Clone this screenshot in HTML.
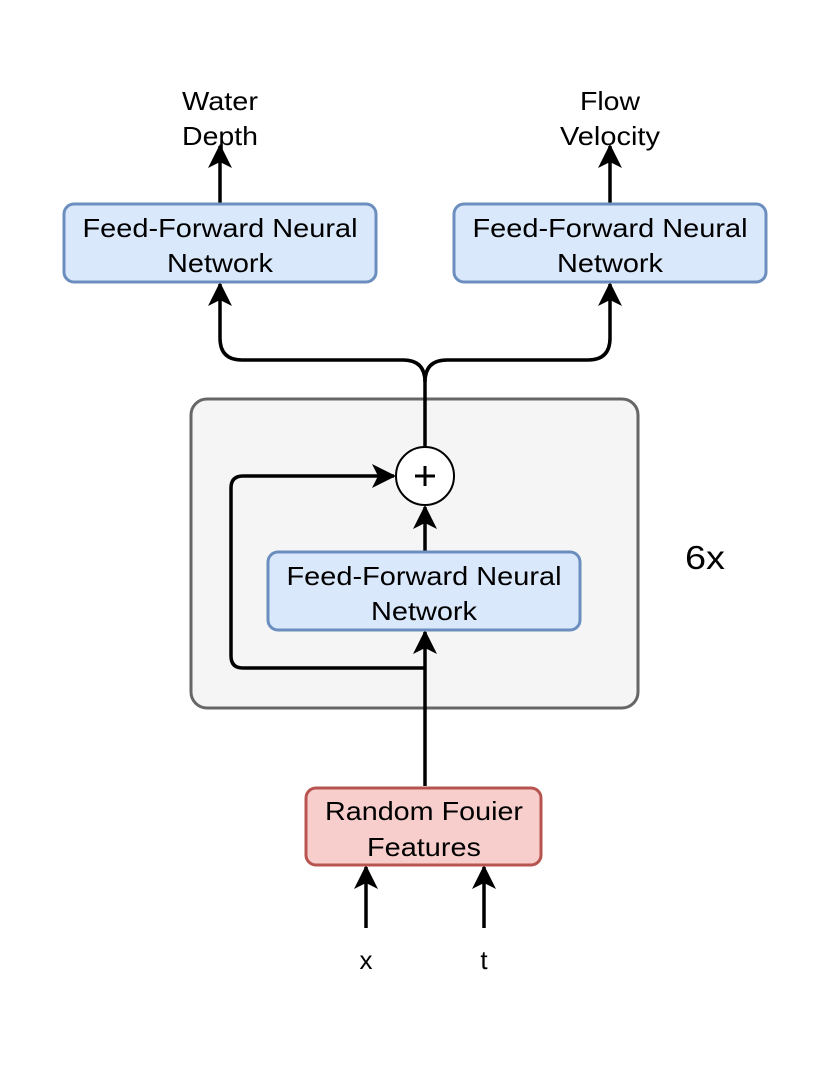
<!DOCTYPE html>
<html><head><style>body{margin:0;background:#fff}</style></head><body>
<svg width="831" height="1069" xmlns="http://www.w3.org/2000/svg" style="font-family:'Liberation Sans',Arial,sans-serif">
<defs>
<marker id="b" markerWidth="24" markerHeight="26" refX="22" refY="13" orient="auto" markerUnits="userSpaceOnUse" viewBox="0 0 24 26"><path d="M0,1 L24,13 L0,25 L6,13 Z" fill="#000"/></marker></defs>
<rect x="191" y="399" width="447" height="309" rx="16" fill="#f5f5f5" stroke="#666" stroke-width="3"/>
<g fill="none" stroke="#000" stroke-width="3.5">
<path d="M425,446 V382 Q425,360 403,360 H242 Q220,360 220,338 V284" marker-end="url(#b)"/>
<path d="M425,382 Q425,360 447,360 H588 Q610,360 610,338 V284" marker-end="url(#b)"/>
<path d="M220,204 V146" marker-end="url(#b)"/>
<path d="M610,204 V146" marker-end="url(#b)"/>
<path d="M425,786 V632" marker-end="url(#b)"/>
<path d="M425,552 V507" marker-end="url(#b)"/>
<path d="M425,668 H243 Q231,668 231,656 V488 Q231,476 243,476 H394" marker-end="url(#b)"/>
<path d="M366,928 V867" marker-end="url(#b)"/>
<path d="M484,928 V867" marker-end="url(#b)"/>
</g>
<circle cx="425" cy="476" r="29" fill="#fff" stroke="#000" stroke-width="2"/>
<path d="M415,476 H435 M425,466 V486" stroke="#000" stroke-width="3"/>
<g stroke="#6c8ebf" stroke-width="3" fill="#dae8fc">
<rect x="64" y="204" width="312" height="78" rx="10"/>
<rect x="454" y="204" width="312" height="78" rx="10"/>
<rect x="268" y="552" width="312" height="78" rx="10"/>
</g>
<rect x="306" y="788" width="235" height="77" rx="10" fill="#f8cecc" stroke="#b85450" stroke-width="3"/>
<g font-size="26" text-anchor="middle" fill="#000">
<text x="220" y="237" textLength="275" lengthAdjust="spacingAndGlyphs">Feed-Forward Neural</text><text x="220" y="272" textLength="106" lengthAdjust="spacingAndGlyphs">Network</text>
<text x="610" y="237" textLength="275" lengthAdjust="spacingAndGlyphs">Feed-Forward Neural</text><text x="610" y="272" textLength="106" lengthAdjust="spacingAndGlyphs">Network</text>
<text x="424" y="585" textLength="275" lengthAdjust="spacingAndGlyphs">Feed-Forward Neural</text><text x="424" y="620" textLength="106" lengthAdjust="spacingAndGlyphs">Network</text>
<text x="424" y="820" textLength="198" lengthAdjust="spacingAndGlyphs">Random Fouier</text><text x="424" y="856" textLength="114" lengthAdjust="spacingAndGlyphs">Features</text>
<text x="220" y="110" textLength="76" lengthAdjust="spacingAndGlyphs">Water</text><text x="220" y="145" textLength="76" lengthAdjust="spacingAndGlyphs">Depth</text>
<text x="610" y="110" textLength="60" lengthAdjust="spacingAndGlyphs">Flow</text><text x="610" y="145" textLength="100" lengthAdjust="spacingAndGlyphs">Velocity</text>
<text x="366" y="969">x</text><text x="484" y="969">t</text>
<text x="705" y="569" font-size="33" textLength="40" lengthAdjust="spacingAndGlyphs">6x</text>
</g>
</svg>
</body></html>
